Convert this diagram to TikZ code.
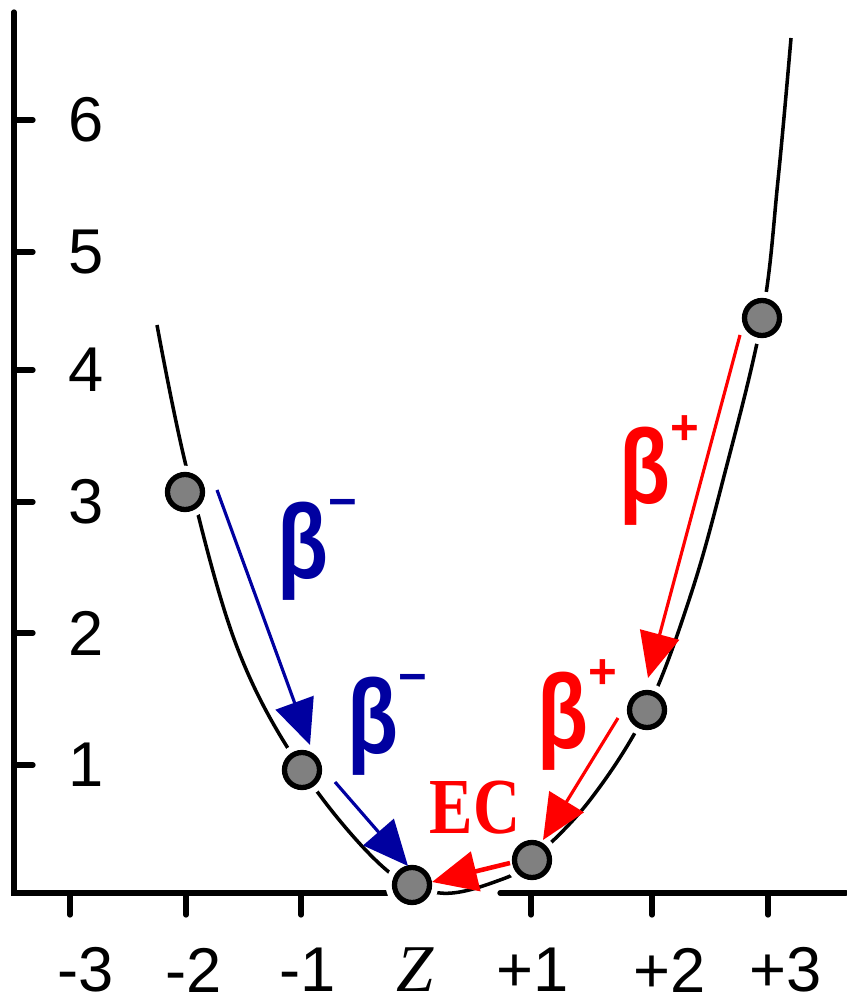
\documentclass[tikz,border=0pt]{standalone}
\usepackage{fontspec}
\setmainfont{Liberation Sans}
\newfontfamily\timesfont{Liberation Serif}
\usetikzlibrary{arrows.meta}
\definecolor{decayblue}{HTML}{0000A0}
\definecolor{decayred}{HTML}{FF0000}
\definecolor{nuclgray}{HTML}{808080}
\newcommand{\decaysign}[1]{\raisebox{17pt}{\fontsize{14}{14}\selectfont\bfseries #1}}
\newcommand{\tallbeta}{\scalebox{0.95}[1.2]{β}}

\begin{document}
\begin{tikzpicture}[x=0.01cm, y=-0.01cm, >={Triangle[length=0.45cm,width=0.4cm]},
  axis/.style={line width=1.5pt, line cap=round},
  nucl/.style={circle, minimum size=0.35cm, inner sep=0pt, fill=nuclgray, draw=black,
    line width=1.5pt, preaction={draw=white, line width=5pt}},
  decay/.style={->, line width=0.9pt},
  ticklabel/.style={inner sep=0pt, font=\fontsize{18}{20}\selectfont},
  betalabel/.style={anchor=base west, inner sep=0pt, font=\fontsize{25}{28}\selectfont\bfseries}]
  \useasboundingbox (0,0) rectangle (846,1007);

  % axes
  \draw[axis] (14,12) -- (14,893) -- (390,893);
  \draw[axis] (500,893) -- (846,893);
  \foreach \v/\py in {1/765,2/633,3/502,4/370,5/252,6/120} {
    \draw[axis] (14,\py) -- (33,\py);
    \node[ticklabel] (ylab\v) at (86,\py) {\v};
  }
  \foreach \lab/\px/\lx [count=\i] in {-3/70/86,-2/186/194,-1/301/308,+1/531/533,+2/652/670,+3/768/786} {
    \draw[axis] (\px,893) -- (\px,915);
    \node[ticklabel] (xlab\i) at (\lx,970) {\lab};
  }
  \node[inner sep=0pt, font=\fontsize{19}{20}\selectfont\timesfont\itshape] (xlabz) at (415,970) {Z};

  % mass parabola
  \draw[line width=1pt] plot[smooth, tension=0.6] coordinates {(157,325) (187,470) (237,647)
    (302,770) (383,867) (440,893) (500,880) (532,860) (590,800) (647,710) (690,597)
    (723,480) (762,318) (778,180) (791,38)};

  % nuclides
  \node[nucl] (pm2) at (185,492) {};
  \node[nucl] (pm1) at (302,770) {};
  \node[nucl] (pz) at (412,885) {};
  \node[nucl] (pp1) at (532,860) {};
  \node[nucl] (pp2) at (647,710) {};
  \node[nucl] (pp3) at (762,318) {};

  % decays
  \coordinate (bm1s) at (217,490);
  \coordinate (bm1e) at (310,745);
  \coordinate (bm2s) at (335,782);
  \coordinate (bm2e) at (408,866);
  \coordinate (bp1s) at (740,335);
  \coordinate (bp1e) at (648,678);
  \coordinate (bp2s) at (618,718);
  \coordinate (bp2e) at (543,840);
  \coordinate (ecs) at (510,863);
  \coordinate (ece) at (432,882);
  \draw[decay, decayblue] (bm1s) -- (bm1e);
  \draw[decay, decayblue] (bm2s) -- (bm2e);
  \draw[decay, decayred] (bp1s) -- (bp1e);
  \draw[decay, decayred] (bp2s) -- (bp2e);
  \draw[decay, decayred, line width=1.3pt] (ecs) -- (ece);

  \node[betalabel, decayblue] (lbm1) at (277,578) {\tallbeta\decaysign{−}};
  \node[betalabel, decayblue] (lbm2) at (347,753) {\tallbeta\decaysign{−}};
  \node[betalabel, decayred] (lbp1) at (619,504) {\tallbeta\decaysign{+}};
  \node[betalabel, decayred] (lbp2) at (537,748) {\tallbeta\decaysign{+}};
  \node[inner sep=0pt, decayred] (lec) at (475,808)
    {\scalebox{1}[1.22]{\fontsize{18.5}{20}\selectfont\timesfont\bfseries EC}};
\end{tikzpicture}
\end{document}
